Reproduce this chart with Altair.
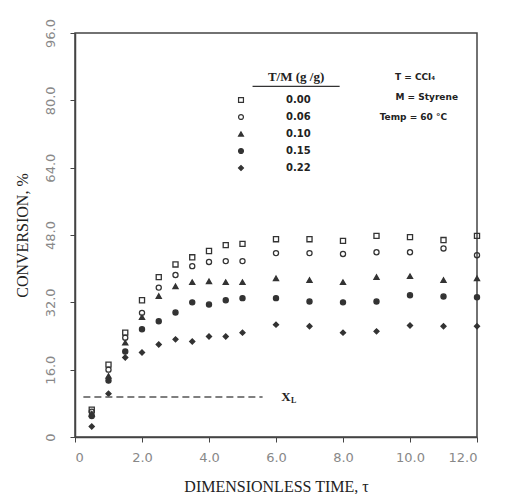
import altair as alt
import pandas as pd

# ---- data ----
tau = [0.5, 1.0, 1.5, 2.0, 2.5, 3.0, 3.5, 4.0, 4.5, 5.0, 6.0, 7.0, 8.0, 9.0, 10.0, 11.0, 12.0]
series_labels = ["0.00", "0.06", "0.10", "0.15", "0.22"]
conv_000 = [6.5, 17.2, 24.8, 32.5, 38.0, 41.0, 42.7, 44.2, 45.6, 45.9, 47.0, 47.0, 46.6, 47.8, 47.5, 46.8, 47.8]
conv_006 = [6.0, 16.0, 23.6, 29.5, 35.5, 38.5, 40.6, 41.6, 41.8, 41.8, 43.7, 43.7, 43.5, 43.9, 43.9, 44.8, 43.2]
conv_010 = [5.5, 14.5, 22.4, 28.5, 33.5, 35.8, 36.8, 37.0, 36.8, 36.8, 37.7, 37.3, 36.8, 38.0, 38.2, 37.3, 37.7]
conv_015 = [5.0, 13.4, 20.3, 25.6, 27.5, 29.6, 32.0, 31.5, 32.5, 33.0, 33.0, 32.2, 32.0, 32.2, 33.7, 33.4, 33.2]
conv_022 = [2.5, 10.3, 18.9, 20.1, 22.0, 23.2, 22.7, 23.9, 23.9, 24.8, 26.7, 26.3, 24.8, 25.1, 26.5, 26.3, 26.3]

x_ticks = [0, 2, 4, 6, 8, 10, 12]
y_ticks = [0, 16, 32, 48, 64, 80, 96]

# X_L line
xl_value = 9.5
xl_start, xl_end = 0.25, 5.6

# annotation texts (in data coordinates)
note_text = ["T = CCl\u2084", "M = Styrene", "Temp = 60 \u00b0C"]
note_tau = [10.15, 10.5, 10.1]
note_conv = [85.5, 80.8, 76.0]

# ---- build tables ----
all_vals = [conv_000, conv_006, conv_010, conv_015, conv_022]
rows = []
for s, vals in zip(series_labels, all_vals):
    for t, c in zip(tau, vals):
        rows.append({"tau": t, "conv": c, "series": s})
df = pd.DataFrame(rows)

shapes = ["square", "circle", "triangle-up", "circle", "diamond"]
fills = ["transparent", "transparent", "#333333", "#333333", "#333333"]
strokes = ["#333333"] * 5

xscale = alt.Scale(domain=[0, 12], nice=False)
yscale = alt.Scale(domain=[0, 96], nice=False)

x_axis = alt.Axis(
    values=x_ticks,
    labelExpr="datum.value == 0 ? '0' : format(datum.value, '.1f')",
    title="DIMENSIONLESS TIME, \u03c4",
    grid=False, labelPadding=9, titlePadding=14,
)
y_axis = alt.Axis(
    values=y_ticks,
    labelExpr="datum.value == 0 ? '0' : format(datum.value, '.1f')",
    title="CONVERSION, %",
    grid=False, labelAngle=270, labelAlign="center", labelBaseline="bottom",
    labelPadding=13, titlePadding=14,
)


def xenc(field="tau"):
    return alt.X(f"{field}:Q", scale=xscale, axis=x_axis)


def yenc(field="conv"):
    return alt.Y(f"{field}:Q", scale=yscale, axis=y_axis)


leg = alt.Legend(
    title=None, orient="none", legendX=161, legendY=62,
    labelOffset=40, symbolSize=24, symbolStrokeWidth=1.2,
    labelFont="DejaVu Sans", labelFontWeight="bold", labelFontSize=10, labelColor="#222222",
    rowPadding=7,
)

points = alt.Chart(df).mark_point(size=26, strokeWidth=1.3, opacity=1).encode(
    x=xenc(),
    y=yenc(),
    shape=alt.Shape("series:N", scale=alt.Scale(domain=series_labels, range=shapes), legend=leg),
    fill=alt.Fill("series:N", scale=alt.Scale(domain=series_labels, range=fills), legend=leg),
    stroke=alt.Stroke("series:N", scale=alt.Scale(domain=series_labels, range=strokes), legend=leg),
)

xl_df = pd.DataFrame({"tau": [xl_start], "tau2": [xl_end], "conv": [xl_value]})
xl_line = alt.Chart(xl_df).mark_rule(strokeDash=[7, 4], stroke="#555555", strokeWidth=1.3).encode(
    x=xenc(), x2="tau2:Q", y=yenc(),
)

xl_lab_df = pd.DataFrame({"tau": [6.3], "conv": [xl_value], "t": ["X"]})
xl_lab = alt.Chart(xl_lab_df).mark_text(font="Liberation Serif", fontWeight="bold", fontSize=13,
                                         align="center", baseline="middle", color="#222222").encode(
    x=xenc(), y=yenc(), text="t:N",
)
xl_sub = alt.Chart(xl_lab_df).mark_text(font="Liberation Serif", fontWeight="bold", fontSize=8,
                                         align="left", baseline="middle", dx=5, dy=4, color="#222222").encode(
    x=xenc(), y=yenc(), text=alt.value("L"),
)

notes_df = pd.DataFrame({"tau": note_tau, "conv": note_conv, "t": note_text})
notes = alt.Chart(notes_df).mark_text(font="DejaVu Sans", fontWeight="bold", fontSize=9,
                                      align="center", baseline="middle", color="#222222").encode(
    x=xenc(), y=yenc(), text="t:N",
)

head_df = pd.DataFrame({"tau": [6.6], "conv": [85.5], "t": ["T/M  (g /g)"]})
head = alt.Chart(head_df).mark_text(font="Liberation Serif", fontWeight="bold", fontSize=13,
                                    align="center", baseline="middle", color="#222222").encode(
    x=xenc(), y=yenc(), text="t:N",
)
ul_df = pd.DataFrame({"tau": [5.3], "tau2": [7.9], "conv": [83.3]})
underline = alt.Chart(ul_df).mark_rule(stroke="#333333", strokeWidth=1.2).encode(
    x=xenc(), x2="tau2:Q", y=yenc(),
)

chart = alt.layer(points, xl_line, xl_lab, xl_sub, notes, head, underline).properties(
    width=402, height=404,
    autosize=alt.AutoSizeParams(type="none"),
    padding={"left": 67, "top": 25, "right": 20, "bottom": 57},
).configure_view(
    stroke="#444444", strokeWidth=1.5
).configure_axis(
    domainColor="#444444", domainWidth=1.5, tickColor="#444444", tickSize=5,
    labelFont="DejaVu Sans", labelFontSize=13, labelColor="#888888",
    titleFont="Liberation Serif", titleFontSize=16, titleFontWeight="normal", titleColor="#222222",
)

chart.save("out.html", embed_options={"renderer": "svg", "actions": False})
